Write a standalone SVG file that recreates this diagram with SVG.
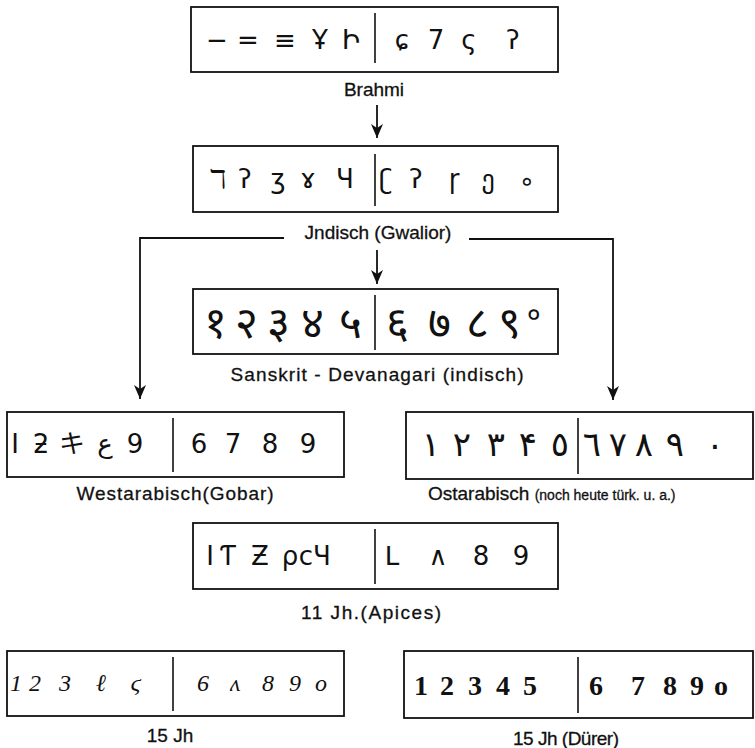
<svg xmlns="http://www.w3.org/2000/svg" width="755" height="748" viewBox="0 0 755 748">
<style>
.box{fill:none;stroke:#111;stroke-width:1.8}
.dv{stroke:#111;stroke-width:1.6}
.con{fill:none;stroke:#111;stroke-width:1.8}
.lbl{font-family:"Liberation Sans",Arial,sans-serif;font-size:19px;fill:#111;stroke:#111;stroke-width:0.3;text-anchor:middle}
.g{font-family:"DejaVu Sans","Noto Sans CJK JP",sans-serif;font-size:26px;fill:#111;text-anchor:middle;dominant-baseline:central}
.dn{font-size:44px}
.ar{font-size:34px}
.du{font-family:"Liberation Serif","DejaVu Serif",serif;font-size:28px;font-weight:bold}
.it{font-family:"Liberation Serif","DejaVu Serif",serif;font-style:italic;font-size:24px}
</style>
<defs>
<marker id="ah" markerUnits="userSpaceOnUse" markerWidth="14" markerHeight="12" refX="14" refY="6" orient="auto" viewBox="0 0 14 12">
<path d="M0,0 L4,6 L0,12 L14,6 Z" fill="#111"/>
</marker>
</defs>
<g id="connectors">
<line class="con" x1="377" y1="105" x2="377" y2="138" marker-end="url(#ah)"/>
<line class="con" x1="377" y1="250" x2="377" y2="284" marker-end="url(#ah)"/>
<polyline class="con" points="284,238 140,238 140,399" marker-end="url(#ah)"/>
<polyline class="con" points="469,239 613,239 613,400" marker-end="url(#ah)"/>
</g>
<g id="brahmi">
<rect class="box" x="191" y="7" width="367" height="65"/>
<line class="dv" x1="375" y1="13" x2="375" y2="63"/>
<text class="g" x="217" y="40">−</text>
<text class="g" x="248" y="40">=</text>
<text class="g" x="285" y="40">≡</text>
<text class="g" x="320" y="40">Ұ</text>
<text class="g" x="351" y="40">Ի</text>
<text class="g" x="402" y="40">ɕ</text>
<text class="g" x="436" y="40">7</text>
<text class="g" x="469" y="40">ς</text>
<text class="g" x="513" y="40">ʔ</text>
<text class="lbl" x="374" y="96">Brahmi</text>
</g>
<g id="gwalior">
<rect class="box" x="193" y="146" width="365" height="66"/>
<line class="dv" x1="375" y1="154" x2="375" y2="206"/>
<text class="g" x="218" y="179">ℸ</text>
<text class="g" x="245" y="179">ʔ</text>
<text class="g" x="278" y="179">ʒ</text>
<text class="g" x="308" y="179">ɤ</text>
<text class="g" x="345" y="179">Ч</text>
<text class="g" x="386" y="179">ʗ</text>
<text class="g" x="416" y="179">ʔ</text>
<text class="g" x="454" y="179">ɼ</text>
<text class="g" x="488" y="179">ე</text>
<text class="g" x="527" y="181">∘</text>
<text class="lbl" x="378" y="239" font-size="20">Jndisch (Gwalior)</text>
</g>
<g id="devanagari">
<rect class="box" x="193" y="289" width="365" height="65"/>
<line class="dv" x1="375" y1="295" x2="375" y2="350"/>
<text class="g dn" x="215" y="322">१</text>
<text class="g dn" x="246" y="322">२</text>
<text class="g dn" x="278" y="322">३</text>
<text class="g dn" x="312" y="322">४</text>
<text class="g dn" x="350" y="322">५</text>
<text class="g dn" x="397" y="322">६</text>
<text class="g dn" x="439" y="322">७</text>
<text class="g dn" x="477" y="322">८</text>
<text class="g dn" x="509" y="322">९</text>
<text class="g" x="534" y="314" font-size="30">०</text>
<text class="lbl" x="377" y="381" textLength="293">Sanskrit - Devanagari (indisch)</text>
</g>
<g id="westarabisch">
<rect class="box" x="7" y="412" width="337" height="65"/>
<line class="dv" x1="173" y1="418" x2="173" y2="472"/>
<text class="g" x="15" y="444">I</text>
<text class="g" x="41" y="444">ƻ</text>
<text class="g" x="72" y="444">キ</text>
<text class="g" x="105" y="444">ع</text>
<text class="g" x="135" y="444">9</text>
<text class="g" x="199" y="444">6</text>
<text class="g" x="233" y="444">7</text>
<text class="g" x="270" y="444">8</text>
<text class="g" x="308" y="444">9</text>
<text class="lbl" x="175" y="500" textLength="197">Westarabisch(Gobar)</text>
</g>
<g id="ostarabisch">
<rect class="box" x="406" y="412" width="347" height="67"/>
<line class="dv" x1="578" y1="418" x2="578" y2="474"/>
<text class="g ar" x="431" y="444">١</text>
<text class="g ar" x="462" y="444">٢</text>
<text class="g ar" x="496" y="444">٣</text>
<text class="g ar" x="528" y="444">۴</text>
<text class="g ar" x="560" y="444">٥</text>
<text class="g ar" x="592" y="444">٦</text>
<text class="g ar" x="618" y="444">٧</text>
<text class="g ar" x="644" y="444">٨</text>
<text class="g ar" x="675" y="444">٩</text>
<text class="g ar" x="715" y="444">٠</text>
<text class="lbl" x="428" y="500" style="text-anchor:start" font-size="20">Ostarabisch <tspan font-size="14">(noch heute türk. u. a.)</tspan></text>
</g>
<g id="apices">
<rect class="box" x="193" y="523" width="365" height="66"/>
<line class="dv" x1="375" y1="529" x2="375" y2="584"/>
<text class="g" x="210" y="556">I</text>
<text class="g" x="228" y="556">Ƭ</text>
<text class="g" x="260" y="556">Ƶ</text>
<text class="g" x="290" y="556">ρ</text>
<text class="g" x="306" y="556">ϲ</text>
<text class="g" x="322" y="556">Ч</text>
<text class="g" x="392" y="556">ᒪ</text>
<text class="g" x="438" y="556">∧</text>
<text class="g" x="481" y="556">8</text>
<text class="g" x="521" y="556">9</text>
<text class="lbl" x="371" y="619" textLength="140">11 Jh.(Apices)</text>
</g>
<g id="jh15">
<rect class="box" x="7" y="651" width="337" height="65"/>
<line class="dv" x1="173" y1="657" x2="173" y2="711"/>
<text class="g it" x="16" y="683" font-size="16">1</text>
<text class="g it" x="35" y="683" font-size="18">2</text>
<text class="g it" x="65" y="683">3</text>
<text class="g it" x="101" y="683">ℓ</text>
<text class="g it" x="136" y="683">ϛ</text>
<text class="g it" x="203" y="683">6</text>
<text class="g it" x="235" y="683">ʌ</text>
<text class="g it" x="268" y="683">8</text>
<text class="g it" x="295" y="683">9</text>
<text class="g it" x="321" y="683" font-size="18">o</text>
<text class="lbl" x="170" y="742" font-size="17">15 Jh</text>
</g>
<g id="jh15-durer">
<rect class="box" x="404" y="651" width="349" height="67"/>
<line class="dv" x1="578" y1="657" x2="578" y2="713"/>
<text class="g du" x="421" y="685">1</text>
<text class="g du" x="447" y="685">2</text>
<text class="g du" x="475" y="685">3</text>
<text class="g du" x="503" y="685">4</text>
<text class="g du" x="530" y="685">5</text>
<text class="g du" x="596" y="685">6</text>
<text class="g du" x="638" y="685">7</text>
<text class="g du" x="670" y="685">8</text>
<text class="g du" x="697" y="685">9</text>
<text class="g du" x="721" y="685">o</text>
<text class="lbl" x="566" y="745" font-size="15" textLength="106">15 Jh (Dürer)</text>
</g>
</svg>
